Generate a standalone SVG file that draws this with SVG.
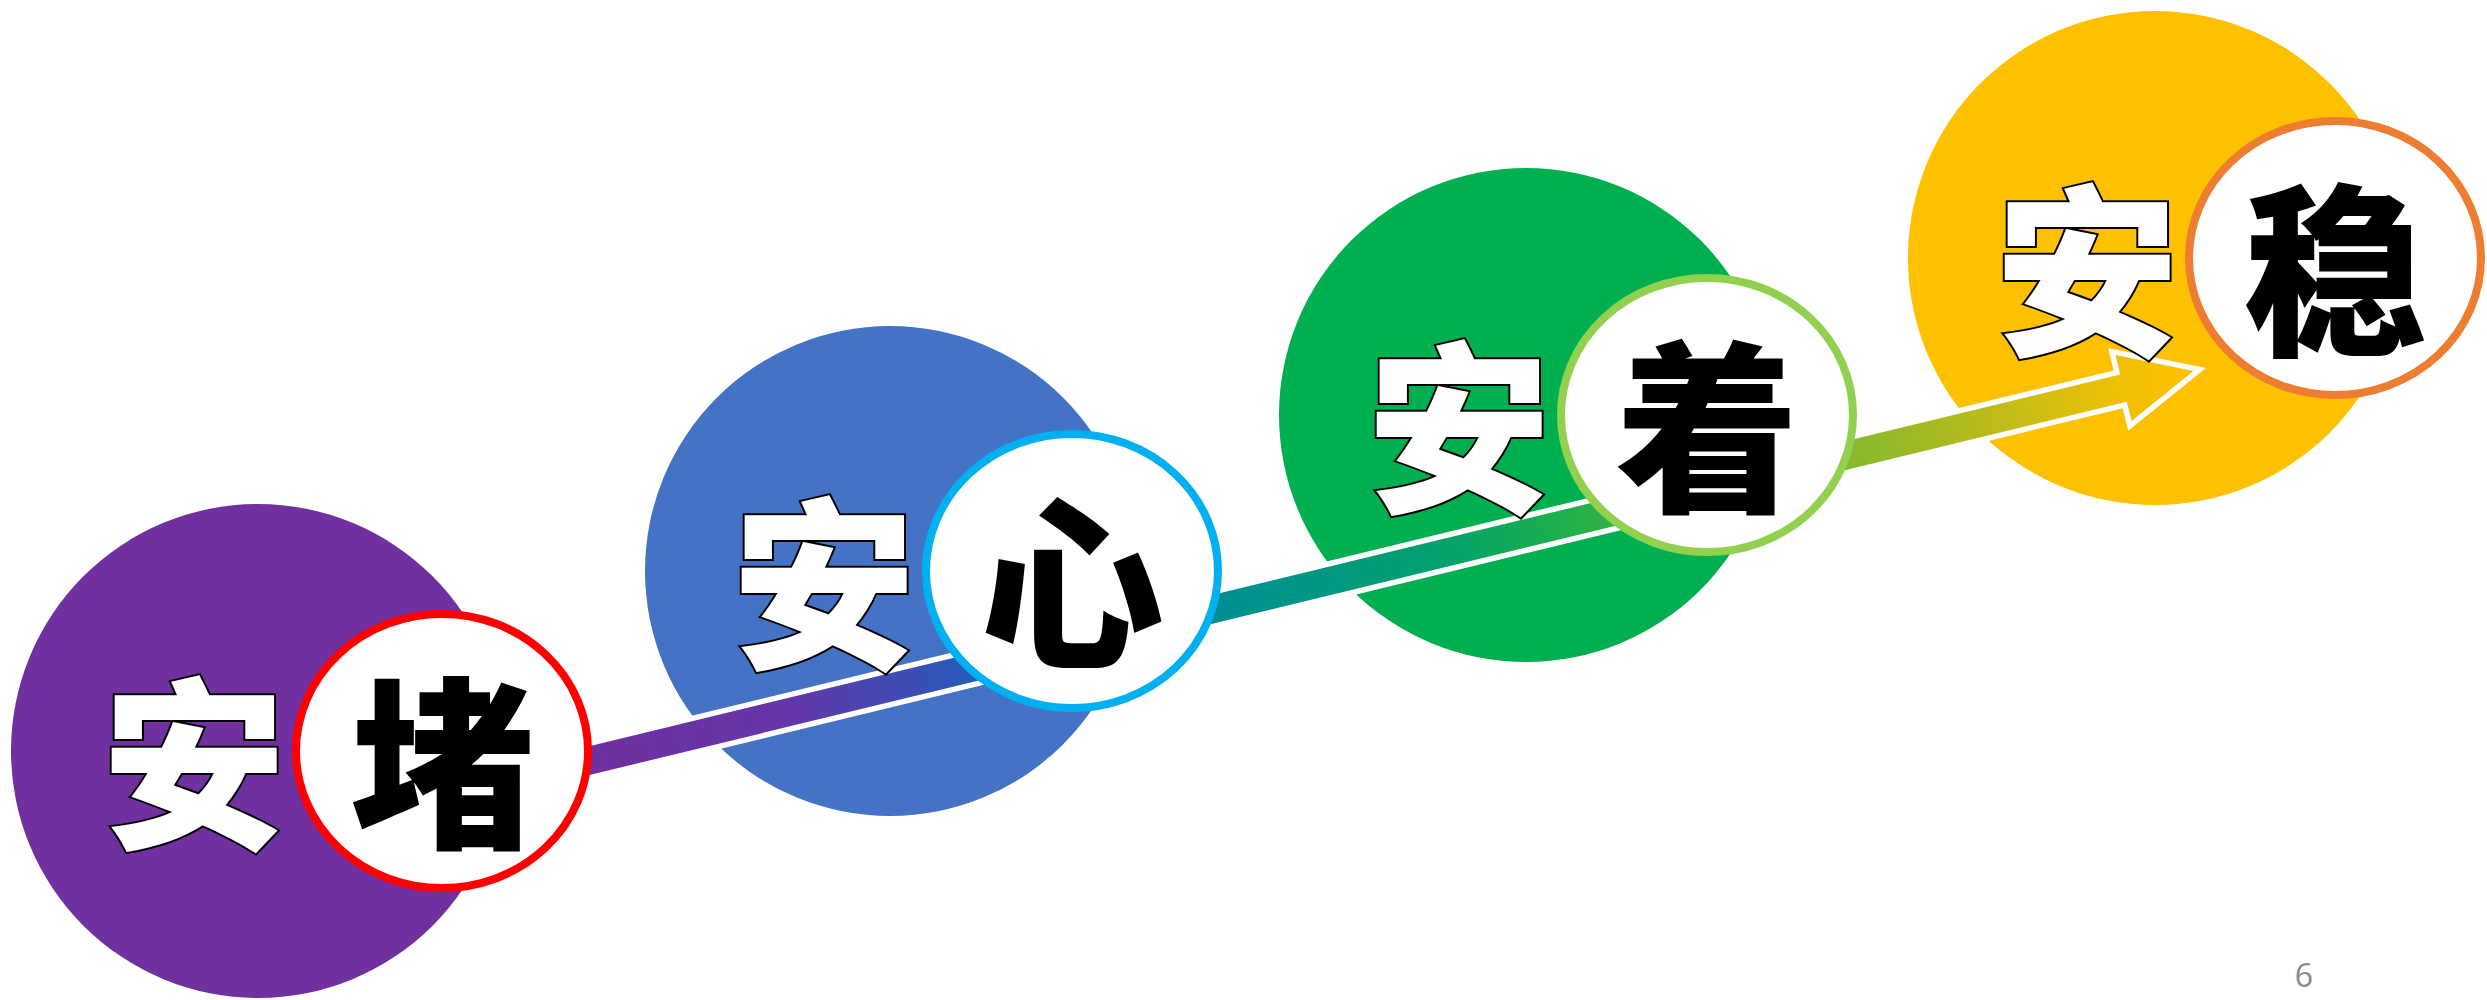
<svg xmlns="http://www.w3.org/2000/svg" width="2487" height="1000" viewBox="0 0 2487 1000">
  <defs>
    <linearGradient id="bandGrad" gradientUnits="userSpaceOnUse" x1="0" y1="0" x2="1650" y2="0">
      <stop offset="0" stop-color="#7030A0"/>
      <stop offset="0.12" stop-color="#6535A8"/>
      <stop offset="0.22" stop-color="#2F55B8"/>
      <stop offset="0.27" stop-color="#1565C0"/>
      <stop offset="0.40" stop-color="#00908F"/>
      <stop offset="0.52" stop-color="#00A070"/>
      <stop offset="0.60" stop-color="#1BAF4D"/>
      <stop offset="0.72" stop-color="#6AB538"/>
      <stop offset="0.80" stop-color="#8FB92A"/>
      <stop offset="0.88" stop-color="#C0BC18"/>
      <stop offset="0.95" stop-color="#EEC005"/>
      <stop offset="1" stop-color="#FFC000"/>
    </linearGradient>
  </defs>
  <style>
    .ring { fill: #ffffff; stroke-width: 8; }
    .an { font-family: "Noto Sans CJK SC", "Noto Sans CJK JP", sans-serif; font-weight: 900; font-size: 184px; fill: #ffffff; stroke: #000000; stroke-width: 4; paint-order: stroke; text-anchor: middle; }
    .ch { font-family: "Noto Sans CJK SC", "Noto Sans CJK JP", sans-serif; font-weight: 900; font-size: 184px; fill: #000000; text-anchor: middle; }
    .pg { font-family: "Open Sans", "Liberation Sans", sans-serif; font-size: 32px; fill: #898989; text-anchor: middle; }
  </style>
  <rect width="2487" height="1000" fill="#ffffff"/>

  <g id="node-backdrops">
    <circle cx="258" cy="751" r="247" fill="#7030A0"/>
    <circle cx="890" cy="571" r="245" fill="#4472C4"/>
    <circle cx="1526" cy="415" r="247" fill="#00B050"/>
    <circle cx="2155" cy="258" r="247" fill="#FFC000"/>
  </g>

  <g id="connectors">
    <path d="M -150,-14 L 1576,-14 L 1576,-34 L 1648,0 L 1576,34 L 1576,14 L -150,14 Z" transform="translate(592,760) rotate(-13.65)" fill="url(#bandGrad)" stroke="#ffffff" stroke-width="11" stroke-linejoin="miter" stroke-miterlimit="10" paint-order="stroke"/>
  </g>

  <g id="node-du">
    <ellipse class="ring" cx="442" cy="751" rx="146" ry="137" stroke="#FF0000"/>
    <text class="an" x="194" y="834">安</text>
    <text class="ch" x="442" y="834">堵</text>
  </g>

  <g id="node-xin">
    <ellipse class="ring" cx="1072" cy="571" rx="146" ry="137" stroke="#00B0F0"/>
    <text class="an" x="824" y="654">安</text>
    <text class="ch" x="1072" y="654">心</text>
  </g>

  <g id="node-zhe">
    <ellipse class="ring" cx="1707" cy="415" rx="146" ry="137" stroke="#92D050"/>
    <text class="an" x="1459" y="498">安</text>
    <text class="ch" x="1707" y="498">着</text>
  </g>

  <g id="node-wen">
    <ellipse class="ring" cx="2335" cy="258" rx="146" ry="137" stroke="#ED7D31"/>
    <text class="an" x="2087" y="341">安</text>
    <text class="ch" x="2335" y="341">稳</text>
  </g>

  <text class="pg" x="2304" y="987">6</text>
</svg>
